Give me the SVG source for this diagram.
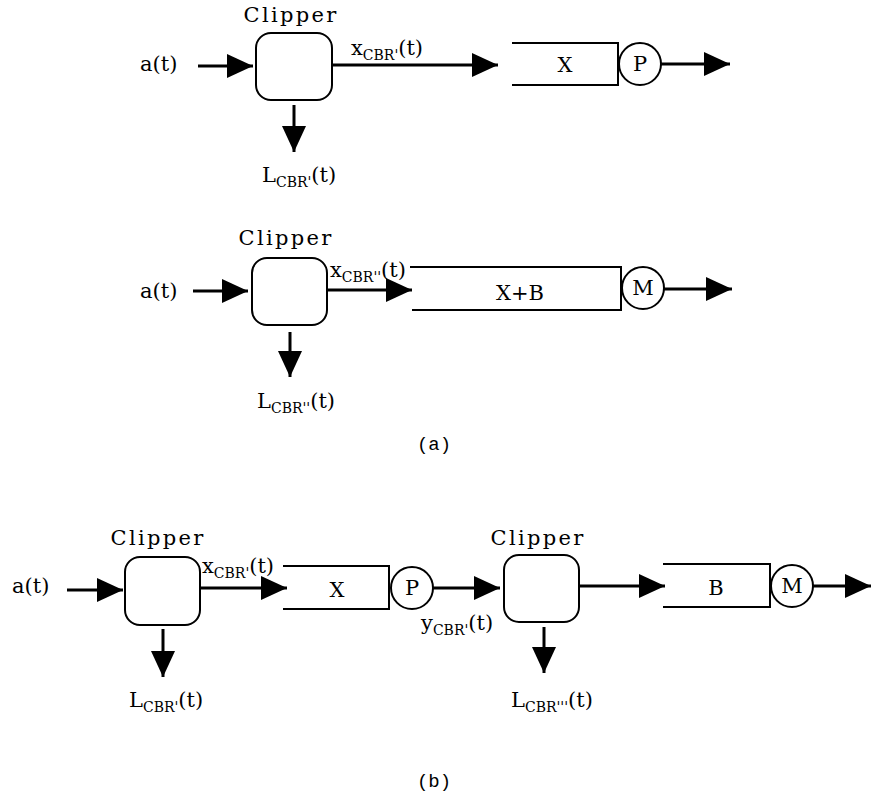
<svg xmlns="http://www.w3.org/2000/svg" width="871" height="800" viewBox="0 0 871 800">
<style>
.t{font-family:"DejaVu Serif","Liberation Serif",serif;font-size:21px;fill:#000}
.clip{font-family:"DejaVu Serif","Liberation Serif",serif;font-size:21px;letter-spacing:2.3px;text-anchor:middle}
.s{font-size:14px}
.m{font-family:"Liberation Mono",monospace;font-size:19px;text-anchor:middle}
.c{text-anchor:middle}
.box{fill:#fff;stroke:#000;stroke-width:2}
.q{fill:none;stroke:#000;stroke-width:2}
.ln{stroke:#000;stroke-width:3;fill:none}
</style>
<defs>
<marker id="ah" markerUnits="userSpaceOnUse" markerWidth="26" markerHeight="24" refX="26" refY="12" orient="auto">
<path d="M0,0 L26,12 L0,24 z" fill="#000"/>
</marker>
</defs>
<g id="connectors">
<line class="ln" x1="198" y1="66" x2="253" y2="66" marker-end="url(#ah)"/>
<line class="ln" x1="332" y1="65" x2="498" y2="65" marker-end="url(#ah)"/>
<line class="ln" x1="294" y1="105" x2="294" y2="152" marker-end="url(#ah)"/>
<line class="ln" x1="661" y1="64" x2="730" y2="64" marker-end="url(#ah)"/>
<line class="ln" x1="193" y1="291" x2="248" y2="291" marker-end="url(#ah)"/>
<line class="ln" x1="327" y1="290" x2="412" y2="290" marker-end="url(#ah)"/>
<line class="ln" x1="290" y1="332" x2="290" y2="377" marker-end="url(#ah)"/>
<line class="ln" x1="664" y1="289" x2="732" y2="289" marker-end="url(#ah)"/>
<line class="ln" x1="67" y1="590" x2="123" y2="590" marker-end="url(#ah)"/>
<line class="ln" x1="200" y1="588" x2="287" y2="588" marker-end="url(#ah)"/>
<line class="ln" x1="163" y1="629" x2="163" y2="677" marker-end="url(#ah)"/>
<line class="ln" x1="433" y1="588" x2="500" y2="588" marker-end="url(#ah)"/>
<line class="ln" x1="544" y1="627" x2="544" y2="673" marker-end="url(#ah)"/>
<line class="ln" x1="579" y1="586" x2="665" y2="586" marker-end="url(#ah)"/>
<line class="ln" x1="813" y1="586" x2="871" y2="586" marker-end="url(#ah)"/>
</g>
<g id="a-input1"><text class="t" x="140" y="71">a(t)</text></g>
<g id="a-clipper1">
<text class="clip" x="291" y="22">Clipper</text>
<rect class="box" x="256" y="33" width="76" height="67" rx="15"/>
</g>
<g id="a-x1"><text class="t" x="351" y="55">x<tspan class="s" dy="5">CBR'</tspan><tspan dy="-5">(t)</tspan></text></g>
<g id="a-L1"><text class="t" x="262" y="182">L<tspan class="s" dy="5">CBR'</tspan><tspan dy="-5">(t)</tspan></text></g>
<g id="a-queueX">
<path class="q" d="M512,43 H618 V85 H512"/>
<text class="t c" x="565" y="72">X</text>
</g>
<g id="a-serverP">
<circle class="box" cx="640" cy="64" r="21"/>
<text class="t c" x="640" y="71">P</text>
</g>
<g id="a-input2"><text class="t" x="140" y="298">a(t)</text></g>
<g id="a-clipper2">
<text class="clip" x="286" y="245">Clipper</text>
<rect class="box" x="252" y="258" width="75" height="67" rx="15"/>
</g>
<g id="a-x2"><text class="t" x="330" y="277">x<tspan class="s" dy="5">CBR''</tspan><tspan dy="-5">(t)</tspan></text></g>
<g id="a-L2"><text class="t" x="257" y="408">L<tspan class="s" dy="5">CBR''</tspan><tspan dy="-5">(t)</tspan></text></g>
<g id="a-queueXB">
<path class="q" d="M410,267 H621 V310 H412"/>
<text class="t c" x="520" y="300">X+B</text>
</g>
<g id="a-serverM">
<circle class="box" cx="643" cy="288" r="21"/>
<text class="t c" x="643" y="295">M</text>
</g>
<g id="label-a"><text class="m" x="434" y="450">(a)</text></g>
<g id="b-input"><text class="t" x="12" y="593">a(t)</text></g>
<g id="b-clipper1">
<text class="clip" x="158" y="545">Clipper</text>
<rect class="box" x="125" y="557" width="75" height="68" rx="15"/>
</g>
<g id="b-x"><text class="t" x="202" y="573">x<tspan class="s" dy="5">CBR'</tspan><tspan dy="-5">(t)</tspan></text></g>
<g id="b-L1"><text class="t" x="129" y="707">L<tspan class="s" dy="5">CBR'</tspan><tspan dy="-5">(t)</tspan></text></g>
<g id="b-queueX">
<path class="q" d="M283,566 H389 V609 H283"/>
<text class="t c" x="337" y="597">X</text>
</g>
<g id="b-serverP">
<circle class="box" cx="412" cy="588" r="21"/>
<text class="t c" x="412" y="595">P</text>
</g>
<g id="b-y"><text class="t" x="421" y="630">y<tspan class="s" dy="5">CBR'</tspan><tspan dy="-5">(t)</tspan></text></g>
<g id="b-clipper2">
<text class="clip" x="538" y="545">Clipper</text>
<rect class="box" x="504" y="555" width="75" height="67" rx="15"/>
</g>
<g id="b-L2"><text class="t" x="511" y="707">L<tspan class="s" dy="5">CBR'''</tspan><tspan dy="-5">(t)</tspan></text></g>
<g id="b-queueB">
<path class="q" d="M663,564 H770 V607 H663"/>
<text class="t c" x="716" y="595">B</text>
</g>
<g id="b-serverM">
<circle class="box" cx="792" cy="586" r="21"/>
<text class="t c" x="792" y="593">M</text>
</g>
<g id="label-b"><text class="m" x="434" y="787">(b)</text></g>
</svg>
